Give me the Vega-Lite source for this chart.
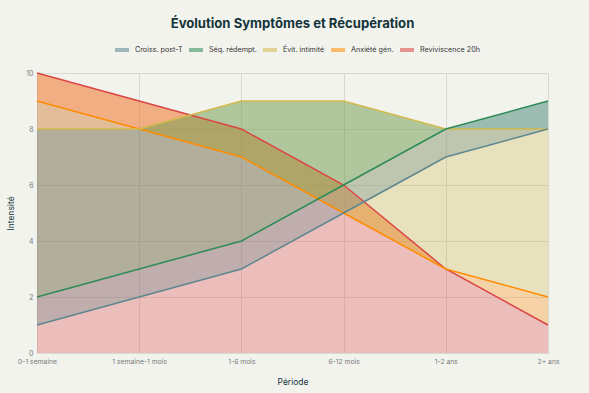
{
  "$schema": "https://vega.github.io/schema/vega-lite/v6.json",
  "width": 511,
  "height": 280,
  "autosize": {"type": "none"},
  "padding": {"left": 37, "top": 73, "right": 41, "bottom": 40},
  "background": "#F3F3EE",
  "title": {
    "text": "Évolution Symptômes et Récupération",
    "fontSize": 13.1,
    "font": "Inter",
    "fontWeight": "bold",
    "color": "#13343B",
    "anchor": "middle",
    "offset": 10
  },
  "data": {
    "values": [
      {"periode": "0-1 semaine", "croiss": 1, "seq": 2, "evit": 8, "anx": 9, "reviv": 10},
      {"periode": "1 semaine-1 mois", "croiss": 2, "seq": 3, "evit": 8, "anx": 8, "reviv": 9},
      {"periode": "1-6 mois", "croiss": 3, "seq": 4, "evit": 9, "anx": 7, "reviv": 8},
      {"periode": "6-12 mois", "croiss": 5, "seq": 6, "evit": 9, "anx": 5, "reviv": 6},
      {"periode": "1-2 ans", "croiss": 7, "seq": 8, "evit": 8, "anx": 3, "reviv": 3},
      {"periode": "2+ ans", "croiss": 8, "seq": 9, "evit": 8, "anx": 2, "reviv": 1}
    ]
  },
  "encoding": {
    "x": {
      "field": "periode",
      "type": "ordinal",
      "sort": ["0-1 semaine", "1 semaine-1 mois", "1-6 mois", "6-12 mois", "1-2 ans", "2+ ans"],
      "scale": {"type": "point", "padding": 0},
      "axis": {
        "title": "Période",
        "labelAngle": 0,
        "ticks": false,
        "domain": false,
        "grid": true,
        "gridColor": "#D9D9D3",
        "labelColor": "#7A7A7A",
        "labelFontSize": 6.8,
        "labelPadding": 5,
        "titleColor": "#13343B",
        "titleFontSize": 8.5,
        "titleFontWeight": "normal",
        "titlePadding": 13
      }
    }
  },
  "layer": [
    {
      "mark": {"type": "area", "fillOpacity": 0.3},
      "encoding": {
        "y": {"field": "reviv", "type": "quantitative", "scale": {"domain": [0, 10], "nice": false},
          "axis": {"title": "Intensité", "values": [0, 2, 4, 6, 8, 10], "ticks": false, "domain": false, "grid": true, "gridColor": "#D9D9D3", "labelColor": "#7A7A7A", "labelFontSize": 7, "labelPadding": 4, "titleColor": "#13343B", "titleFontSize": 8.5, "titleFontWeight": "normal", "titlePadding": 10}},
        "y2": {"datum": 0},
        "color": {"datum": "Reviviscence 20h", "type": "nominal",
          "scale": {"domain": ["Croiss. post-T", "Séq. rédempt.", "Évit. intimité", "Anxiété gén.", "Reviviscence 20h"], "range": ["#5D878F", "#2E8B57", "#D2BA4C", "#FF8C00", "#DB4545"]},
          "legend": {"title": null, "orient": "none", "legendX": 76, "legendY": -32, "direction": "horizontal", "symbolType": "stroke", "symbolStrokeWidth": 4, "symbolSize": 196, "symbolOpacity": 0.55, "labelFont": "Inter", "labelFontSize": 7.2, "labelColor": "#333333", "columnPadding": -2, "labelOffset": 4}}
      }
    },
    {
      "mark": {"type": "area", "fillOpacity": 0.3},
      "encoding": {"y": {"field": "anx", "type": "quantitative"}, "y2": {"field": "reviv"}, "color": {"datum": "Anxiété gén.", "type": "nominal"}}
    },
    {
      "mark": {"type": "area", "fillOpacity": 0.3},
      "encoding": {"y": {"field": "evit", "type": "quantitative"}, "y2": {"field": "anx"}, "color": {"datum": "Évit. intimité", "type": "nominal"}}
    },
    {
      "mark": {"type": "area", "fillOpacity": 0.3},
      "encoding": {"y": {"field": "seq", "type": "quantitative"}, "y2": {"field": "evit"}, "color": {"datum": "Séq. rédempt.", "type": "nominal"}}
    },
    {
      "mark": {"type": "area", "fillOpacity": 0.3},
      "encoding": {"y": {"field": "croiss", "type": "quantitative"}, "y2": {"field": "seq"}, "color": {"datum": "Croiss. post-T", "type": "nominal"}}
    },
    {
      "mark": {"type": "line", "strokeWidth": 1.5},
      "encoding": {"y": {"field": "reviv", "type": "quantitative"}, "color": {"datum": "Reviviscence 20h", "type": "nominal"}}
    },
    {
      "mark": {"type": "line", "strokeWidth": 1.5},
      "encoding": {"y": {"field": "anx", "type": "quantitative"}, "color": {"datum": "Anxiété gén.", "type": "nominal"}}
    },
    {
      "mark": {"type": "line", "strokeWidth": 1.5},
      "encoding": {"y": {"field": "evit", "type": "quantitative"}, "color": {"datum": "Évit. intimité", "type": "nominal"}}
    },
    {
      "mark": {"type": "line", "strokeWidth": 1.5},
      "encoding": {"y": {"field": "seq", "type": "quantitative"}, "color": {"datum": "Séq. rédempt.", "type": "nominal"}}
    },
    {
      "mark": {"type": "line", "strokeWidth": 1.5},
      "encoding": {"y": {"field": "croiss", "type": "quantitative"}, "color": {"datum": "Croiss. post-T", "type": "nominal"}}
    }
  ],
  "config": {
    "font": "Inter",
    "view": {"stroke": null}
  }
}
